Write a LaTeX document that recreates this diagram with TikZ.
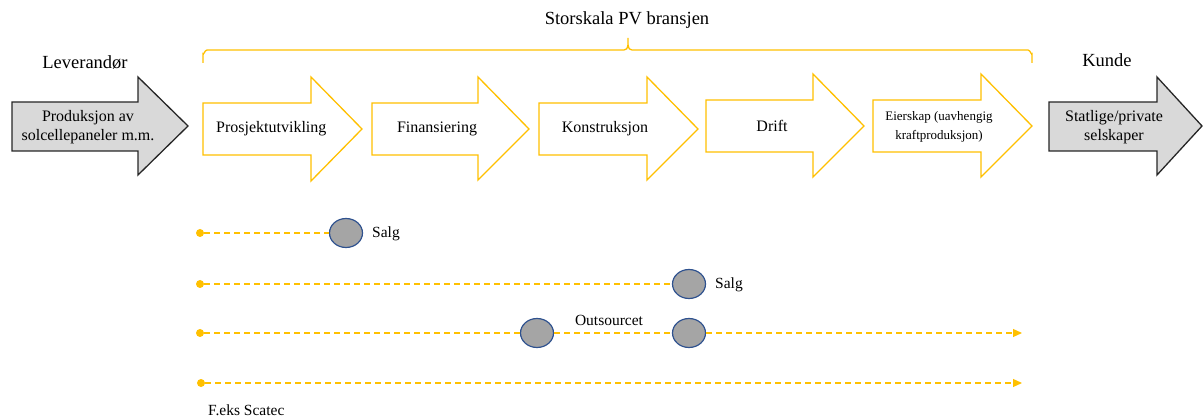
\documentclass[tikz,border=0pt]{standalone}
\usepackage{fontspec}
\setmainfont{Liberation Serif}
\usetikzlibrary{arrows.meta,shapes.geometric}
\definecolor{gold}{HTML}{FFC000}
\definecolor{lgray}{HTML}{D9D9D9}
\definecolor{mgray}{HTML}{A5A5A5}
\definecolor{eblue}{HTML}{2F528F}
\begin{document}
\begin{tikzpicture}[x=1pt,y=-1pt,
  grayarrow/.style={draw=black!85,fill=lgray,line width=1.3pt,line join=miter},
  goldarrow/.style={draw=gold,fill=white,line width=1.3pt,line join=miter},
  head/.style={font=\fontsize{18.5}{22}\selectfont,inner sep=0pt},
  boxtxt/.style={font=\fontsize{16}{19}\selectfont,inner sep=0pt,align=center},
  smalltxt/.style={font=\fontsize{13}{19}\selectfont,inner sep=0pt,align=center},
  lbl/.style={font=\fontsize{15.5}{18}\selectfont,inner sep=0pt},
  dot/.style={circle,fill=gold,inner sep=0pt,minimum size=8pt},
  blob/.style={ellipse,draw=eblue,fill=mgray,line width=1.2pt,minimum width=33pt,minimum height=29pt,inner sep=0pt},
  dline/.style={draw=gold,line width=1.2pt,dash pattern=on 6pt off 4pt},
  dlinearrow/.style={dline,-{Triangle[length=9pt,width=8pt]}}
]
\useasboundingbox (0,0) rectangle (1204,419);
% shapes of the value chain arrows
\draw[grayarrow] (12,102)--(138,102)--(138,77)--(188,126)--(138,175)--(138,151)--(12,151)--cycle;
\draw[goldarrow] (203,103)--(311,103)--(311,77)--(362,129)--(311,181)--(311,155)--(203,155)--cycle;
\draw[goldarrow] (372,103)--(478,103)--(478,77)--(529,129)--(478,180)--(478,155)--(372,155)--cycle;
\draw[goldarrow] (539,103)--(647,103)--(647,77)--(698,129)--(647,180)--(647,155)--(539,155)--cycle;
\draw[goldarrow] (706,100)--(813,100)--(813,74)--(864,126)--(813,177)--(813,152)--(706,152)--cycle;
\draw[goldarrow] (873,100)--(981,100)--(981,74)--(1032,126)--(981,177)--(981,152)--(873,152)--cycle;
\draw[grayarrow] (1049,102)--(1157,102)--(1157,77)--(1202,126)--(1157,175)--(1157,151)--(1049,151)--cycle;
% brace
\draw[gold,line width=1.3pt] (203,63)--(203,54) to[out=-90,in=180] (207,50)--(624,50) to[out=0,in=-90] (628,38) to[out=-90,in=180] (632,50)--(1028,50) to[out=0,in=-90] (1032,54)--(1032,63);
% texts
\node[head] (title) at (627,20) {Storskala PV bransjen};
\node[head] (lev) at (85,62) {Leverandør};
\node[head] (kunde) at (1107,60) {Kunde};
\node[boxtxt] (prod) at (88,127) {Produksjon av\\solcellepaneler m.m.};
\node[boxtxt,anchor=west] (prosj) at (216,129) {Prosjektutvikling};
\node[boxtxt] (fin) at (437,129) {Finansiering};
\node[boxtxt] (kon) at (605,129) {Konstruksjon};
\node[boxtxt] (drift) at (772,126) {Drift};
\node[smalltxt] (eier) at (939,127) {Eierskap (uavhengig\\kraftproduksjon)};
\node[boxtxt] (stat) at (1114,127) {Statlige/private\\selskaper};
% bottom rows
\node[dot] (d1) at (200,233) {};
\node[dot] (d2) at (200,284) {};
\node[dot] (d3) at (200,333) {};
\node[dot] (d4) at (201,383) {};
\node[blob] (e1) at (346,233) {};
\node[blob] (e2) at (689,284) {};
\node[blob] (e3) at (537,333) {};
\node[blob] (e4) at (689,333) {};
\coordinate (end3) at (1022,333);
\coordinate (end4) at (1022,383);
\draw[dline] (d1) -- (e1);
\draw[dline] (d2) -- (e2);
\draw[dline] (d3) -- (e3);
\draw[dline] (e3) -- (e4);
\draw[dlinearrow] (e4) -- (end3);
\draw[dlinearrow] (d4) -- (end4);
\node[lbl,anchor=west] (s1) at (372,234) {Salg};
\node[lbl,anchor=west] (s2) at (715,285) {Salg};
\node[lbl] (out) at (609,320) {Outsourcet};
\node[lbl,anchor=west] (fe) at (208,410) {F.eks Scatec};
\end{tikzpicture}
\end{document}
